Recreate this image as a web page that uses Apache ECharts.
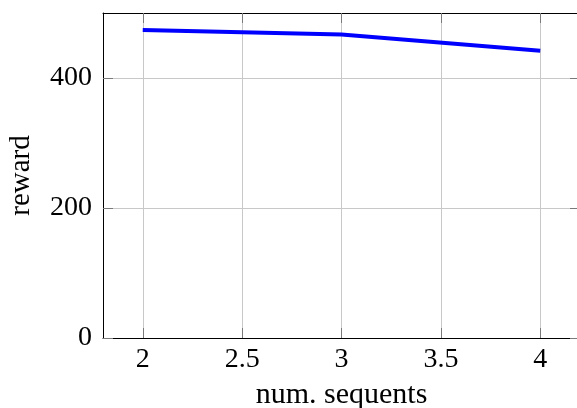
<!DOCTYPE html>
<html>
<head>
<meta charset="utf-8">
<script src="https://cdn.jsdelivr.net/npm/echarts@6/dist/echarts.min.js"></script>
<style>
  html, body { margin: 0; padding: 0; background: #ffffff; }
  #chart { width: 577px; height: 408px; }
</style>
</head>
<body>
<div id="chart"></div>
<script>
// Reward as a function of the number of sequents
const numSequents = [2, 3, 4];
const reward = [474, 467, 442];
const xTicks = [2, 2.5, 3, 3.5, 4];
const yTicks = [0, 200, 400];

const FONT = '"Liberation Serif", "DejaVu Serif", serif';
const TICK_COLOR = '#7a7a7a';
const GRID_COLOR = '#c8c8c8';

const xRange = { min: 1.8, max: 4.2 };
const yRange = { min: 0, max: 500 };

function baseAxis(extra) {
  return Object.assign({
    type: 'value',
    axisLine: { show: true, onZero: false, lineStyle: { color: '#000', width: 1 } },
    axisTick: { show: true, inside: true, length: 10, lineStyle: { color: TICK_COLOR, width: 1 } },
    splitLine: { show: false },
    axisLabel: { show: false }
  }, extra);
}

const chart = echarts.init(document.getElementById('chart'), null, { renderer: 'canvas' });

chart.setOption({
  animation: false,
  backgroundColor: '#ffffff',
  grid: { left: 103, top: 13, width: 477, height: 325, containLabel: false, outerBoundsMode: 'none' },
  xAxis: [
    baseAxis(Object.assign({}, xRange, {
      position: 'bottom',
      name: 'num. sequents',
      nameLocation: 'middle',
      nameGap: 42,
      nameTextStyle: { fontFamily: FONT, fontSize: 30, color: '#000' },
      axisTick: { show: true, inside: true, length: 10, customValues: xTicks, lineStyle: { color: TICK_COLOR, width: 1 } },
      splitLine: { show: true, lineStyle: { color: GRID_COLOR, width: 1 } },
      axisLabel: { show: true, customValues: xTicks, margin: 8, fontFamily: FONT, fontSize: 28, color: '#000',
                   formatter: v => String(v) }
    })),
    // mirrored ticks along the top edge of the frame
    baseAxis(Object.assign({}, xRange, {
      position: 'top',
      axisTick: { show: true, inside: true, length: 10, customValues: xTicks, lineStyle: { color: TICK_COLOR, width: 1 } }
    }))
  ],
  yAxis: [
    baseAxis(Object.assign({}, yRange, {
      position: 'left',
      name: 'reward',
      nameLocation: 'middle',
      nameGap: 67,
      nameTextStyle: { fontFamily: FONT, fontSize: 29, color: '#000' },
      axisTick: { show: true, inside: true, length: 10, customValues: yTicks, lineStyle: { color: TICK_COLOR, width: 1 } },
      splitLine: { show: true, lineStyle: { color: GRID_COLOR, width: 1 } },
      axisLabel: { show: true, customValues: yTicks, margin: 11, fontFamily: FONT, fontSize: 28, color: '#000' }
    })),
    // mirrored ticks along the right edge of the frame
    baseAxis(Object.assign({}, yRange, {
      position: 'right',
      axisTick: { show: true, inside: true, length: 10, customValues: yTicks, lineStyle: { color: TICK_COLOR, width: 1 } }
    }))
  ],
  series: [{
    type: 'line',
    xAxisIndex: 0,
    yAxisIndex: 0,
    data: numSequents.map((x, i) => [x, reward[i]]),
    showSymbol: false,
    symbol: 'none',
    lineStyle: { color: '#0000ff', width: 4 },
    z: 5
  }]
});
</script>
</body>
</html>
